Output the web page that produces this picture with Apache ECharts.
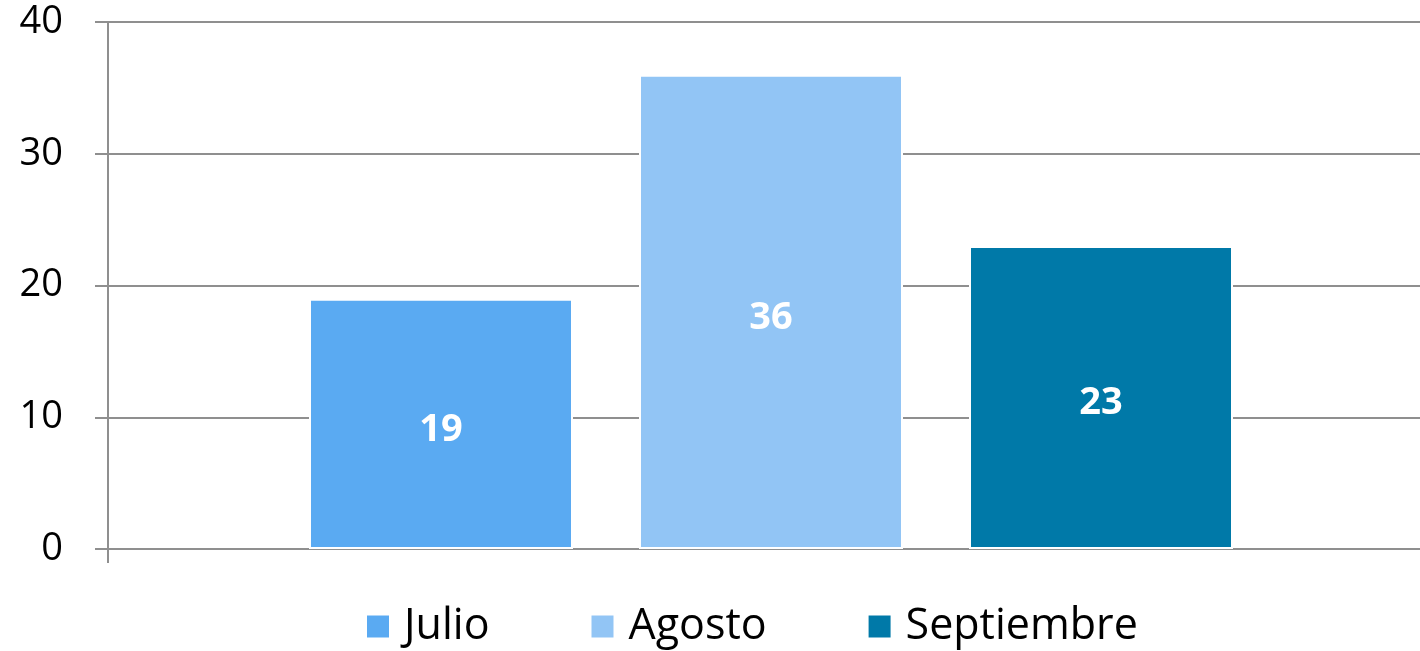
<!DOCTYPE html>
<html>
<head>
<meta charset="utf-8">
<script src="https://cdn.jsdelivr.net/npm/echarts@6/dist/echarts.min.js"></script>
<style>
  html, body { margin: 0; padding: 0; background: #fff; }
  #main { width: 1420px; height: 651px; }
</style>
</head>
<body>
<div id="main"></div>
<script>
var categories = ['Total'];
var seriesNames = ['Julio', 'Agosto', 'Septiembre'];
var julio = [19];
var agosto = [36];
var septiembre = [23];
var yTicks = [0, 10, 20, 30, 40];

var colors = ['#5AAAF2', '#92C5F5', '#0079A8'];
var values = [julio, agosto, septiembre];
var fontName = '"Open Sans", "DejaVu Sans", sans-serif';

var series = [];
for (var i = 0; i < seriesNames.length; i++) {
    series.push({
        name: seriesNames[i],
        type: 'bar',
        data: values[i],
        barWidth: 264,
        barGap: '25%',
        itemStyle: { color: colors[i], borderColor: '#fff', borderWidth: 2 },
        label: {
            show: true,
            position: 'inside',
            offset: [0, 6],
            color: '#fff',
            fontWeight: 'bold',
            fontSize: 38,
            fontFamily: fontName
        }
    });
}

var myChart = echarts.init(document.getElementById('main'));
myChart.setOption({
    animation: false,
    color: colors,
    grid: { left: 108, width: 1326, top: 22, bottom: 102, containLabel: false, outerBoundsMode: 'none' },
    legend: {
        bottom: -2,
        left: 360,
        icon: 'rect',
        itemWidth: 24,
        itemHeight: 24,
        itemGap: 100,
        textStyle: { fontSize: 43, color: '#000', fontFamily: fontName, padding: [0, 0, 0, 9] },
        data: seriesNames
    },
    xAxis: {
        type: 'category',
        data: categories,
        axisLine: { lineStyle: { color: '#8f8f8f', width: 2 } },
        axisTick: { show: true, length: 14, lineStyle: { color: '#8f8f8f', width: 2 } },
        axisLabel: { show: false }
    },
    yAxis: {
        type: 'value',
        min: yTicks[0],
        max: yTicks[yTicks.length - 1],
        interval: 10,
        axisLine: { show: true, lineStyle: { color: '#8f8f8f', width: 2 } },
        axisTick: { show: true, length: 13, lineStyle: { color: '#8f8f8f', width: 2 } },
        splitLine: { lineStyle: { color: '#8f8f8f', width: 2 } },
        axisLabel: { fontSize: 38, color: '#000', margin: 45, fontFamily: fontName }
    },
    series: series
});
</script>
</body>
</html>
